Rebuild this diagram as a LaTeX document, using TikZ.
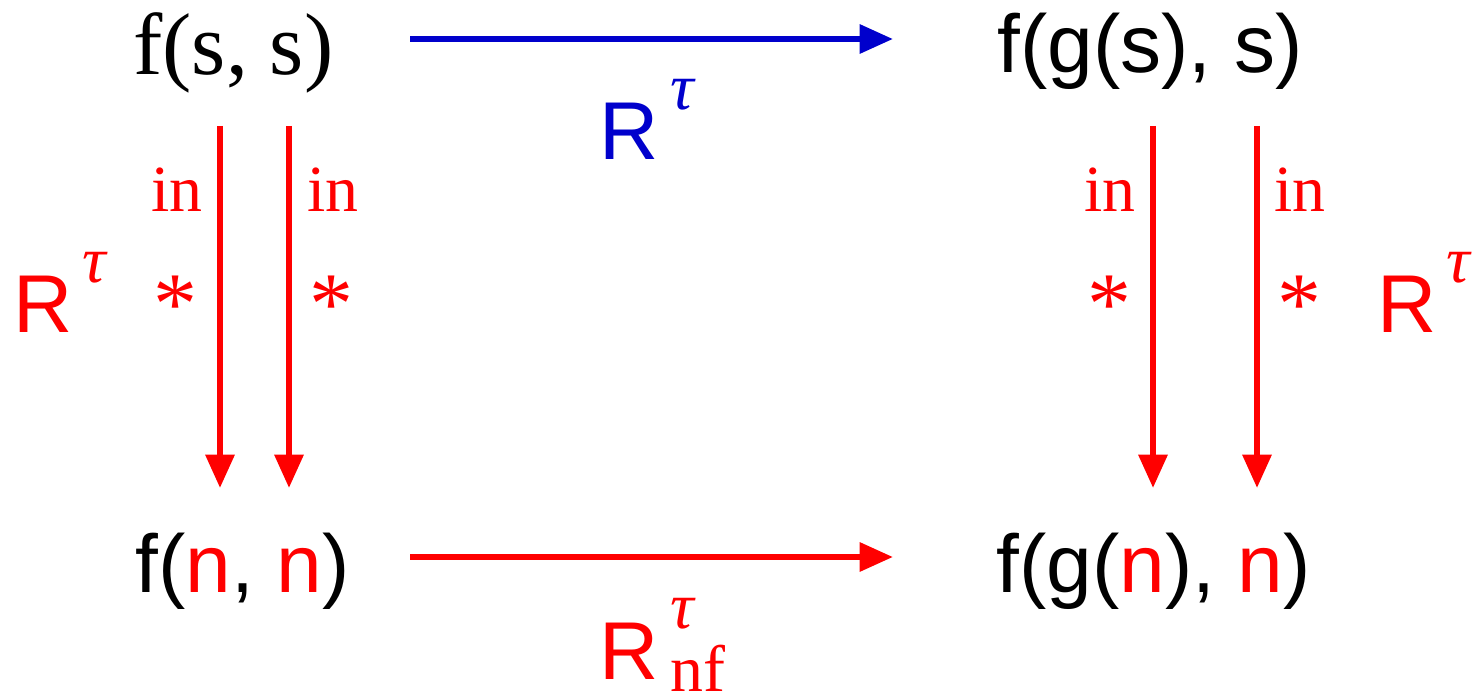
\documentclass[tikz,border=0pt]{standalone}
\usepackage{fontspec}
\setmainfont{Liberation Serif}
\setsansfont{Liberation Sans}
\usetikzlibrary{arrows.meta}
\definecolor{arrblue}{RGB}{0,0,204}

\begin{document}
\begin{tikzpicture}[
    x=0.02cm, y=-0.02cm,
    term/.style={inner sep=0pt, anchor=base west, font=\sffamily\fontsize{46.7}{56}\selectfont},
    sterm/.style={term, font=\rmfamily\fontsize{50}{60}\selectfont},
    small/.style={inner sep=0pt, anchor=base west, text=red, font=\rmfamily\fontsize{37.5}{45}\selectfont},
    star/.style={small, font=\rmfamily\fontsize{50}{60}\selectfont},
    tau/.style={small, font=\rmfamily\itshape\fontsize{37.5}{45}\selectfont},
    arr/.style={-{Triangle[length=19pt, width=16pt]}, line width=3.4pt, red},
    barr/.style={arr, arrblue}
]
\useasboundingbox (0,0) rectangle (1474,699);
\clip (0,0) rectangle (1474,699);

\node[sterm] (ss) at (133,75) {f(s, s)};
\node[term] (gss) at (997,73) {f(g(s), s)};
\node[term] (nn) at (135,592) {f(\textcolor{red}{n}, \textcolor{red}{n})};
\node[term] (gnn) at (996,592) {f(g(\textcolor{red}{n}), \textcolor{red}{n})};

% arrow ends
\coordinate (ssa) at (220,126);  \coordinate (nna) at (220,488);
\coordinate (ssb) at (289,126);  \coordinate (nnb) at (289,488);
\coordinate (gssa) at (1153,126); \coordinate (gnna) at (1153,488);
\coordinate (gssb) at (1257,126); \coordinate (gnnb) at (1257,488);
\coordinate (top1) at (410,39);  \coordinate (top2) at (893,39);
\coordinate (bot1) at (410,557); \coordinate (bot2) at (893,557);

\draw[barr] (top1) -- (top2);
\draw[arr] (bot1) -- (bot2);
\draw[arr] (ssa) -- (nna);
\draw[arr] (ssb) -- (nnb);
\draw[arr] (gssa) -- (gnna);
\draw[arr] (gssb) -- (gnnb);

% labels
\node[term, text=arrblue] (rtop) at (599,160) {R};
\node[tau, text=arrblue] (ttop) at (670,110) {τ};
\node[term, text=red] (rbot) at (599,679) {R};
\node[tau] (tbot) at (670,628) {τ};
\node[small] (nfbot) at (670,691) {nf};
\node[term, text=red] (rleft) at (13,333) {R};
\node[tau] (tleft) at (82,282) {τ};
\node[term, text=red] (rright) at (1377,333) {R};
\node[tau] (tright) at (1446,282) {τ};

\node[small] (in1) at (151,212) {in};
\node[small] (in2) at (307,212) {in};
\node[small] (in3) at (1084,212) {in};
\node[small] (in4) at (1274,212) {in};
\node[star] (st1) at (153,334) {*};
\node[star] (st2) at (309,334) {*};
\node[star] (st3) at (1087,334) {*};
\node[star] (st4) at (1277,334) {*};
\end{tikzpicture}
\end{document}
